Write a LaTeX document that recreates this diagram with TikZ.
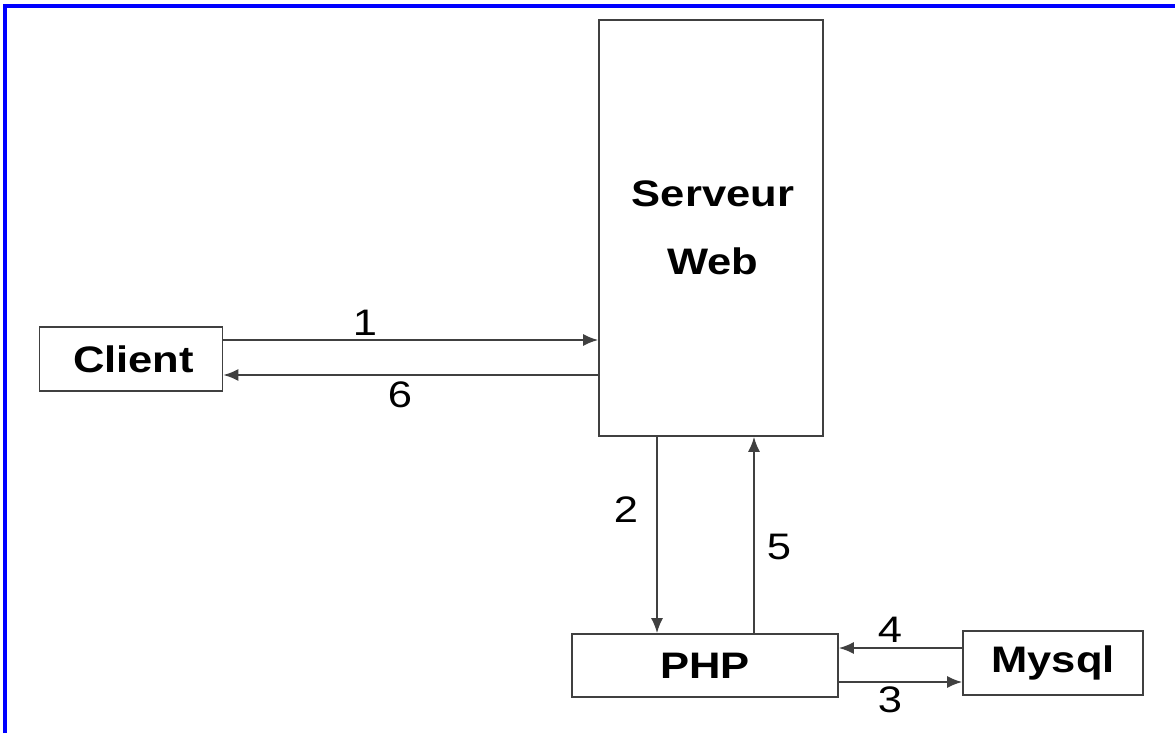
\documentclass[tikz,border=0pt]{standalone}
\usepackage{fontspec}
\setmainfont[FakeStretch=1.18]{Liberation Sans}
\usetikzlibrary{arrows.meta}

\begin{document}
\begin{tikzpicture}[x=0.02cm,y=-0.02cm,>={Latex[length=0.3cm,width=0.24cm]},
  box/.style={draw=black!75,line width=0.035cm,inner sep=0,font=\fontsize{21}{39}\selectfont\bfseries,align=center},
  flow/.style={draw=black!75,line width=0.035cm},
  num/.style={font=\fontsize{21}{24}\selectfont}]
\useasboundingbox (0,0) rectangle (1175,733);
\draw [blue, line width=0.07cm] (5,733) -- (5,6) -- (1175,6);
\node [box, minimum width=3.66cm, minimum height=1.28cm] (client) at (131,359) {\hspace{.1cm}Client};
\node [box, minimum width=4.48cm, minimum height=8.32cm] (server) at (711,228) {\hspace{.08cm}Serveur\\\hspace{.08cm}Web};
\node [box, minimum width=5.32cm, minimum height=1.26cm] (php) at (705,665.5) {PHP};
\node [box, minimum width=3.6cm, minimum height=1.28cm] (mysql) at (1053,663) {Mysql};
\coordinate (c1) at ([yshift=.38cm]client.east);
\coordinate (c6) at ([yshift=-.32cm]client.east);
\coordinate (s2) at ([xshift=-1.08cm]server.south);
\coordinate (s5) at ([xshift=.86cm]server.south);
\coordinate (m4) at ([yshift=.3cm]mysql.west);
\coordinate (m3) at ([yshift=-.38cm]mysql.west);
\draw[->,flow] (c1) -- (c1 -| server.west);
\draw[->,flow] (c6 -| server.west) -- (c6);
\draw[->,flow] (s2) -- (s2 |- php.north);
\draw[->,flow] (s5 |- php.north) -- (s5);
\draw[->,flow] (m4) -- (m4 -| php.east);
\draw[->,flow] (m3 -| php.east) -- (m3);
\node [num] (n1) at (365,323) {1};
\node [num] (n6) at (400,395) {6};
\node [num] (n2) at (626,510) {2};
\node [num] (n5) at (779,547) {5};
\node [num] (n4) at (890,630) {4};
\node [num] (n3) at (890,700) {3};
\end{tikzpicture}
\end{document}
